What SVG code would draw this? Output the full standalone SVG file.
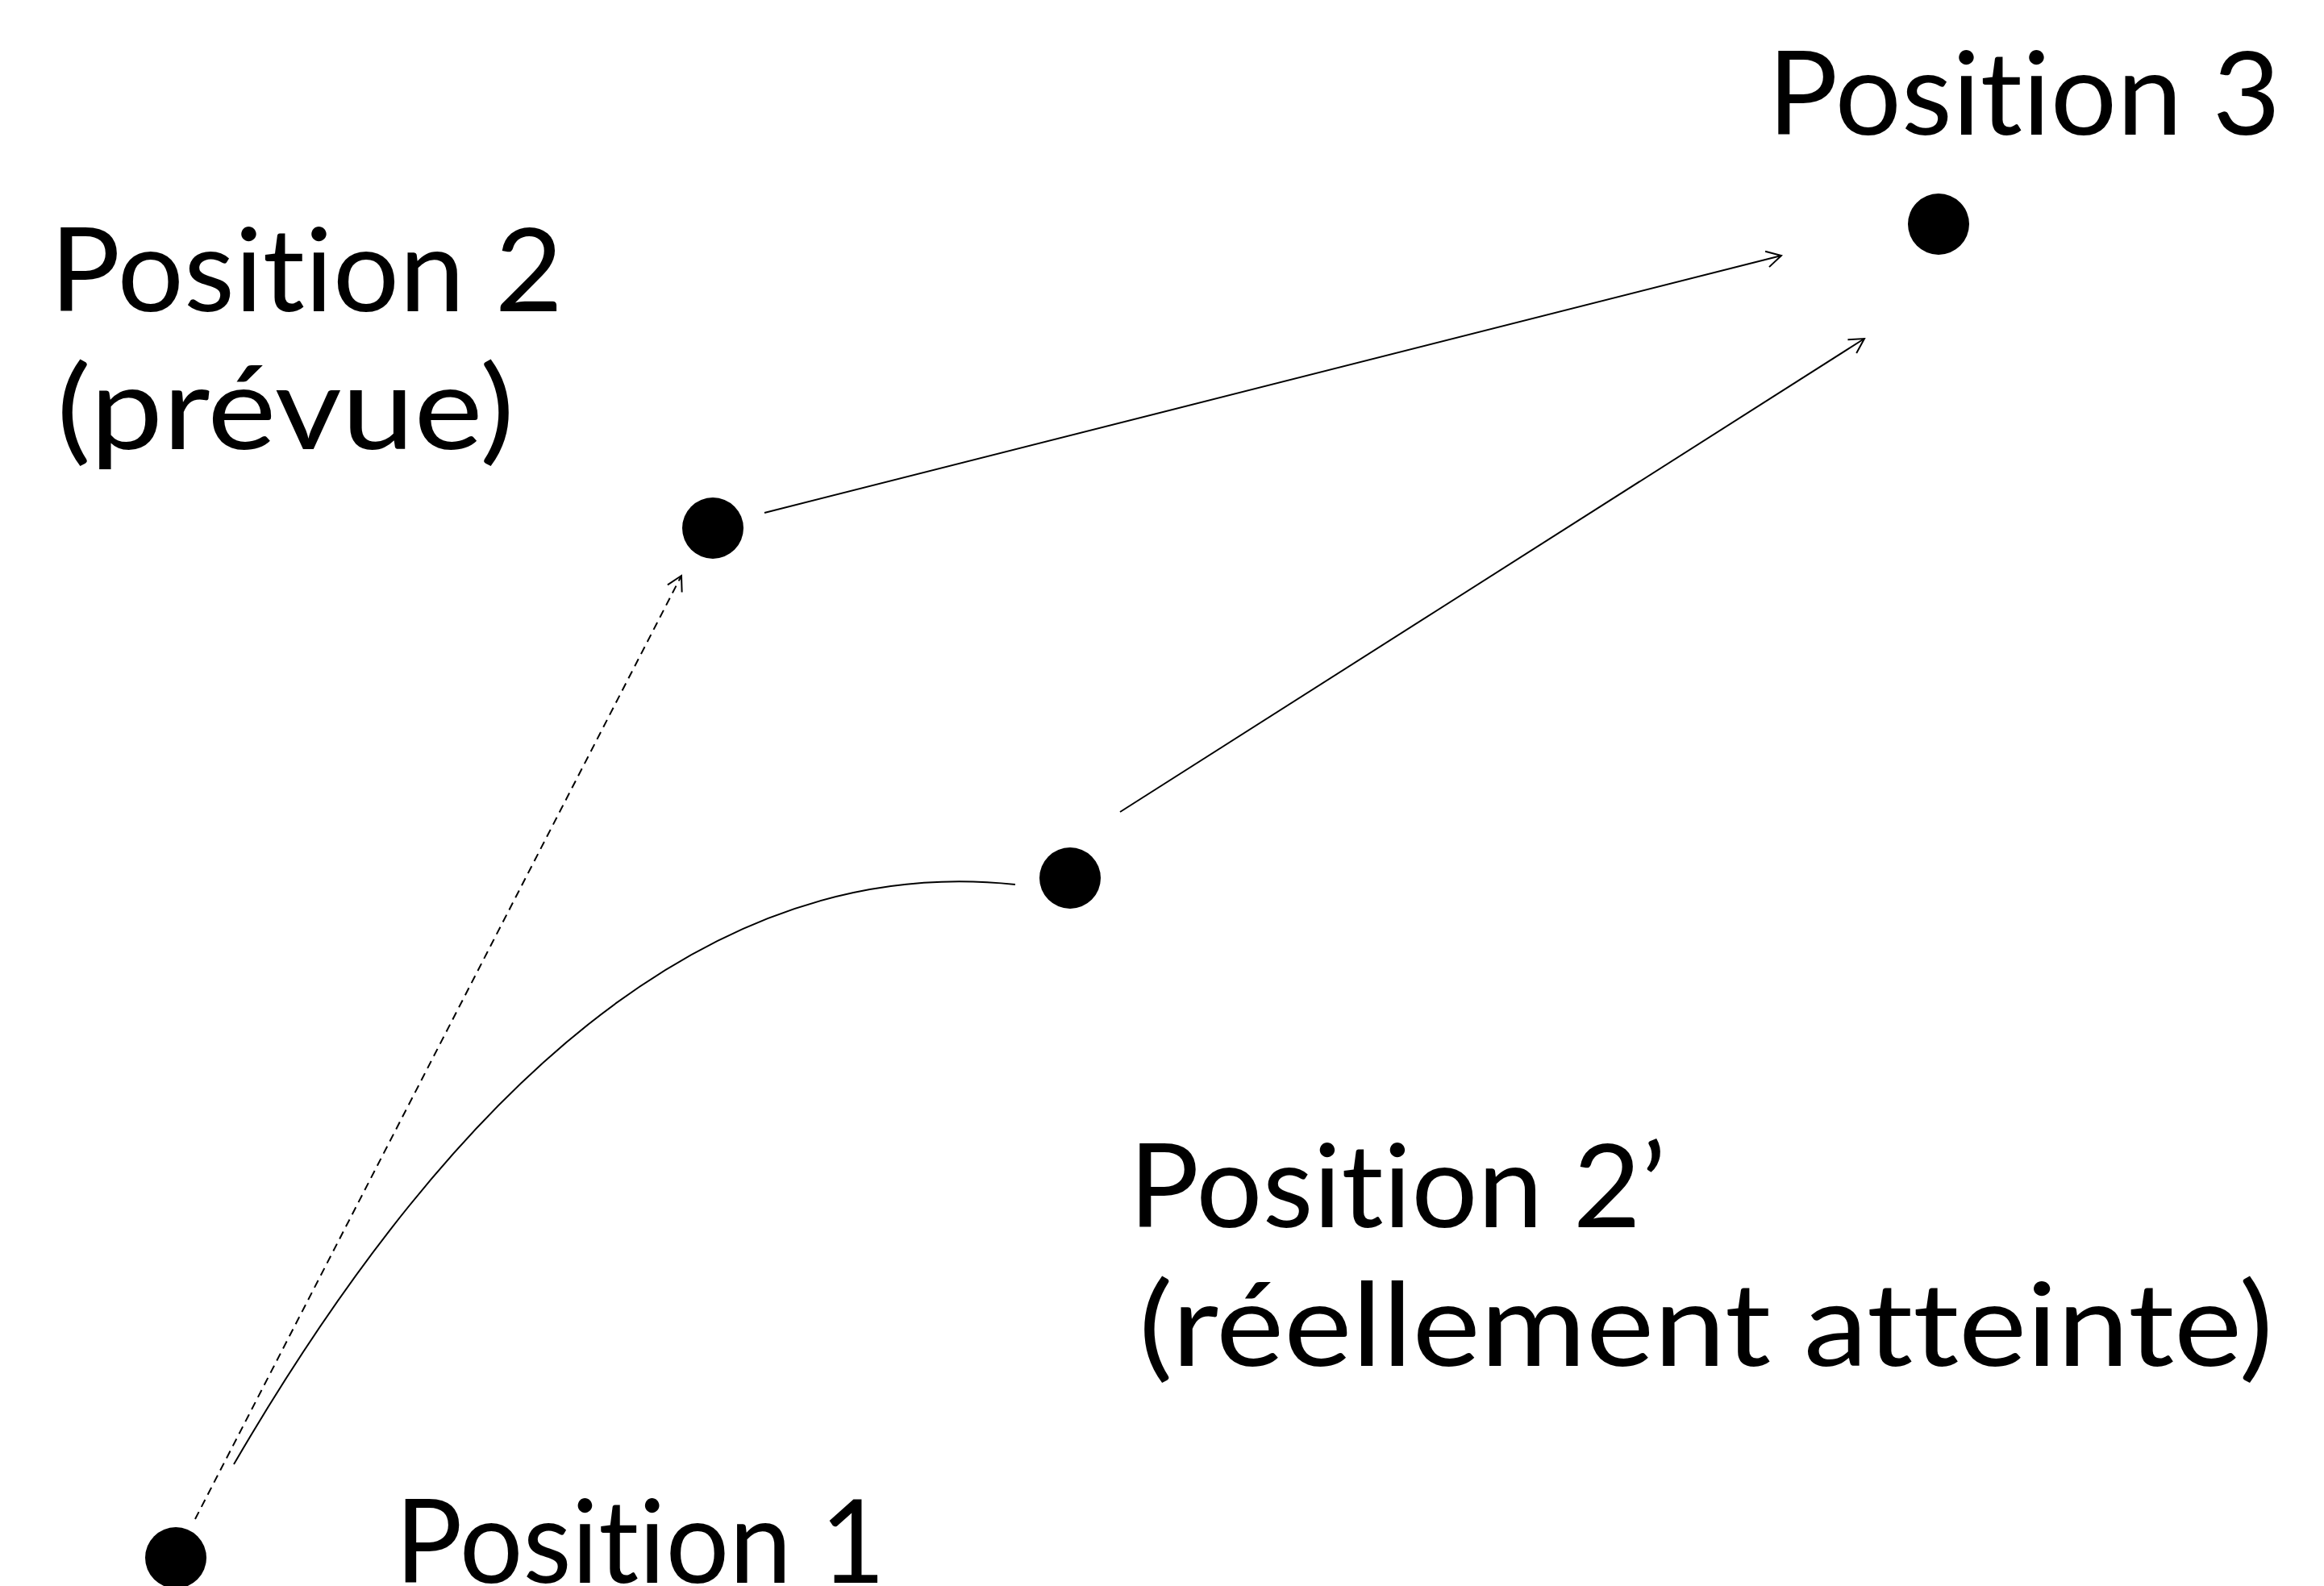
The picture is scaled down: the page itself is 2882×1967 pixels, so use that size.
<svg xmlns="http://www.w3.org/2000/svg" width="2882" height="1967" viewBox="0 0 2882 1967">
<style>
.lbl{font-family:"Lato","Liberation Sans",sans-serif;font-weight:400;font-size:144px;fill:#000;font-variant-ligatures:none;font-feature-settings:"liga" 0,"clig" 0,"dlig" 0}
.dot{fill:#000}
.ln{fill:none;stroke:#000;stroke-width:2}
</style>
<defs>
<marker id="arr" markerUnits="userSpaceOnUse" viewBox="-22 -12 24 24" refX="0" refY="0" markerWidth="24" markerHeight="24" orient="auto">
<path d="M-18,-10 L0,0 L-18,10" fill="none" stroke="#000" stroke-width="2"/>
</marker>
</defs>
<rect width="2882" height="1967" fill="#fff"/>
<g id="connectors">
<line class="ln" x1="242" y1="1884" x2="845" y2="714" stroke-dasharray="10,7" marker-end="url(#arr)"/>
<path class="ln" d="M290,1816 Q741,1041 1259,1097"/>
<line class="ln" x1="948" y1="636" x2="2209" y2="317" marker-end="url(#arr)"/>
<line class="ln" x1="1389" y1="1007" x2="2312" y2="420" marker-end="url(#arr)"/>
</g>
<g id="pos1">
<circle class="dot" cx="218" cy="1932" r="38"/>
<text class="lbl" x="490" y="1963" textLength="608" lengthAdjust="spacingAndGlyphs">Position 1</text>
</g>
<g id="pos2">
<circle class="dot" cx="884" cy="655" r="38"/>
<text class="lbl" x="62" y="386" textLength="636" lengthAdjust="spacingAndGlyphs">Position 2</text>
<text class="lbl" x="70" y="557" textLength="568" lengthAdjust="spacingAndGlyphs">(prévue)</text>
</g>
<g id="pos2prime">
<circle class="dot" cx="1327" cy="1089" r="38"/>
<text class="lbl" x="1400" y="1522" textLength="666" lengthAdjust="spacingAndGlyphs">Position 2’</text>
<text class="lbl" x="1412" y="1694" textLength="1407" lengthAdjust="spacingAndGlyphs">(réellement atteinte)</text>
</g>
<g id="pos3">
<circle class="dot" cx="2404" cy="278" r="38"/>
<text class="lbl" x="2192" y="167" textLength="636" lengthAdjust="spacingAndGlyphs">Position 3</text>
</g>
</svg>
